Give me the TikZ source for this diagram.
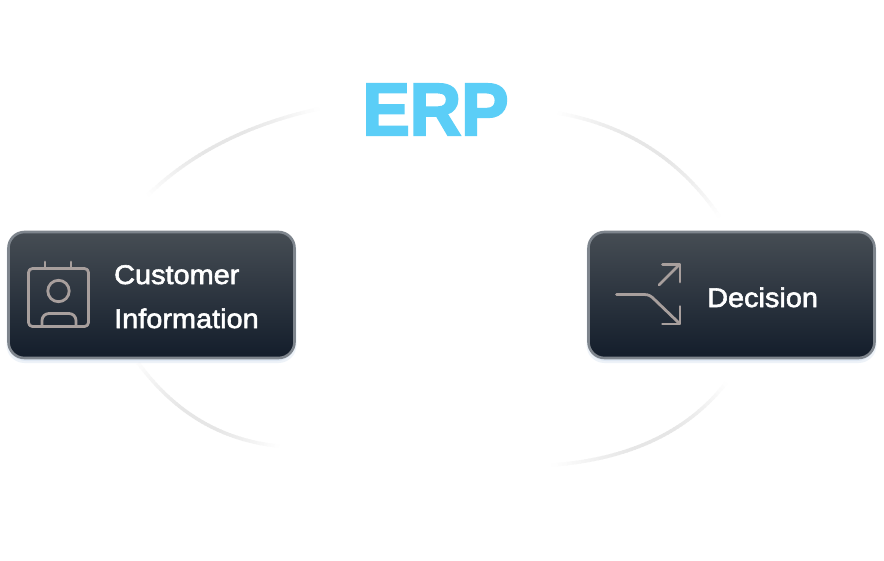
\documentclass[tikz,border=0pt]{standalone}
\usepackage{fontspec}
\setmainfont{Liberation Sans}
\newfontfamily\cardfont[FakeStretch=1.07,FakeBold=2.2]{Liberation Sans}
\newfontfamily\titlefont[FakeStretch=0.96,FakeBold=3]{Liberation Sans Bold}
\definecolor{erpblue}{HTML}{5BCEF7}
\definecolor{cardtop}{HTML}{464D54}
\definecolor{cardbot}{HTML}{131D2B}
\definecolor{cardedge}{HTML}{7E858D}
\definecolor{iconcol}{HTML}{A89F9D}
\definecolor{arcgray}{HTML}{E6E6E6}
\definecolor{glow}{HTML}{A9C2E0}
\tikzset{
  x=1pt,y=-1pt,
  cardbox/.style={draw=cardedge,line width=2.6pt,rounded corners=16pt,top color=cardtop,bottom color=cardbot,minimum width=286pt,minimum height=126pt,inner sep=0pt},
  cardglow/.style={fill=glow,fill opacity=0.2,rounded corners=18pt,draw=none,minimum width=290pt,minimum height=130pt,inner sep=0pt},
  cardtext/.style={text=white,font=\cardfont\fontsize{27}{27}\selectfont,anchor=base west,inner sep=0pt},
  icon/.style={draw=iconcol,line width=2.8pt,line cap=round,line join=round}
}
\newcommand{\fadearc}[6]{%
  \pgfmathsetmacro{\ccx}{2*#3-(#1+#5)/2}%
  \pgfmathsetmacro{\ccy}{2*#4-(#2+#6)/2}%
  \foreach \k in {0,...,47}{%
    \pgfmathsetmacro{\ta}{\k/48}%
    \pgfmathsetmacro{\tb}{(\k+1.25)/48}%
    \pgfmathsetmacro{\ax}{(1-\ta)^2*#1+2*(1-\ta)*\ta*\ccx+\ta*\ta*#5}%
    \pgfmathsetmacro{\ay}{(1-\ta)^2*#2+2*(1-\ta)*\ta*\ccy+\ta*\ta*#6}%
    \pgfmathsetmacro{\bx}{(1-\tb)^2*#1+2*(1-\tb)*\tb*\ccx+\tb*\tb*#5}%
    \pgfmathsetmacro{\by}{(1-\tb)^2*#2+2*(1-\tb)*\tb*\ccy+\tb*\tb*#6}%
    \pgfmathsetmacro{\sh}{100*min(1,1.05*sin(180*(\k+0.5)/48))}%
    \draw[line width=3.4pt,color=arcgray!\sh!white] (\ax,\ay) -- (\bx,\by);
  }%
}
\begin{document}
\begin{tikzpicture}
\useasboundingbox[fill=white] (0,0) rectangle (884,560);
% ring arcs
\fadearc{148}{195}{223}{142}{318}{109}
\fadearc{558}{113}{650}{148}{719}{216}
\fadearc{136}{360}{199}{420}{278}{446}
\fadearc{726}{383}{654}{440}{553}{465}
% title
\node[text=erpblue,font=\titlefont\fontsize{74}{74}\selectfont,anchor=base,inner sep=0pt] (erp) at (435.5,135) {ERP};
% left card
\node[cardglow] (glowl) at (151.5,298) {};
\node[cardglow,minimum width=287pt,minimum height=128pt] (glowlb) at (151.5,297) {};
\node[cardbox] (cust) at (151.5,295) {};
\node[cardtext] (custa) at (114,284) {Customer};
\node[cardtext] (custb) at (114,328) {Information};
\draw[icon,rounded corners=4pt] (28.5,268.5) rectangle (88.5,326.5);
\draw[icon] (45,262) -- (45,268) (71,262) -- (71,268);
\draw[icon] (58.5,291) circle (10.7);
\draw[icon,rounded corners=7pt] (42,326.5) -- (42,313.5) -- (76,313.5) -- (76,326.5);
% right card
\node[cardglow] (glowr) at (731.5,298) {};
\node[cardglow,minimum width=287pt,minimum height=128pt] (glowrb) at (731.5,297) {};
\node[cardbox] (dec) at (731.5,295) {};
\node[cardtext] (dect) at (707,307) {Decision};
\draw[icon] (616.5,294.5) -- (644,294.5) .. controls (649,294.5) and (651,296) .. (655,300) -- (679.5,323.5);
\draw[icon] (662.5,324) -- (680,324) -- (680,306.5);
\draw[icon] (659,285) -- (679.5,264.5);
\draw[icon] (662.5,264.5) -- (680,264.5) -- (680,282);
\end{tikzpicture}
\end{document}
